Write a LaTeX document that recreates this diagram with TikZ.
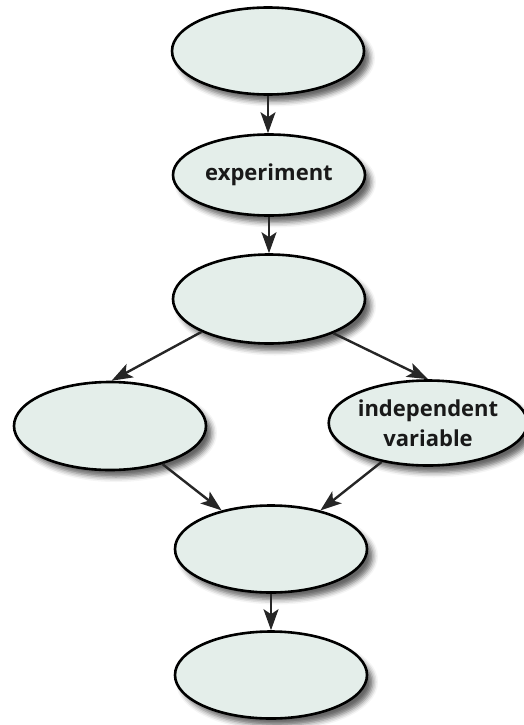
\documentclass[tikz,border=0pt]{standalone}
\usepackage{fontspec}
\setmainfont{Open Sans}
\usetikzlibrary{shapes.geometric,arrows.meta,shadows.blur}
\definecolor{ovalfill}{RGB}{228,238,234}
\begin{document}
\begin{tikzpicture}[x=1pt,y=-1pt,
  oval/.style={ellipse, draw=black, line width=2.6pt, fill=ovalfill,
    minimum width=192pt, minimum height=87pt, inner sep=0pt, align=center,
    font=\bfseries\fontsize{22}{30}\selectfont, text=black!90,
    blur shadow={shadow xshift=6pt, shadow yshift=-7pt, shadow blur radius=5pt, shadow opacity=60}},
  conn/.style={line width=2.4pt, draw=black!85, -{Stealth[length=21pt,width=15pt,inset=5pt]}}]
\useasboundingbox (0,0) rectangle (523,725);
\node[oval] (e1) at (268,51) {};
\node[oval, minimum height=81pt] (e2) at (269,175) {experiment};
\node[oval, minimum height=89pt] (e3) at (269,299) {};
\node[oval, minimum height=88pt] (e4) at (110,426) {};
\node[oval, minimum width=189pt, minimum height=85pt] (e5) at (428,423) {independent\\variable};
\node[oval] (e6) at (271,549) {};
\node[oval] (e7) at (271,675) {};
\draw[conn] (e1.south) -- (e1.south |- e2.north);
\draw[conn] (e2.south) -- (e2.south |- e3.north);
\draw[conn] (e3.206) -- (e4.88);
\draw[conn] (e3.332) -- (e5.north);
\draw[conn] (e4.-36) -- (e6.142);
\draw[conn] (e5.220) -- (e6.38);
\draw[conn] (e6.south) -- (e6.south |- e7.north);
\end{tikzpicture}
\end{document}
